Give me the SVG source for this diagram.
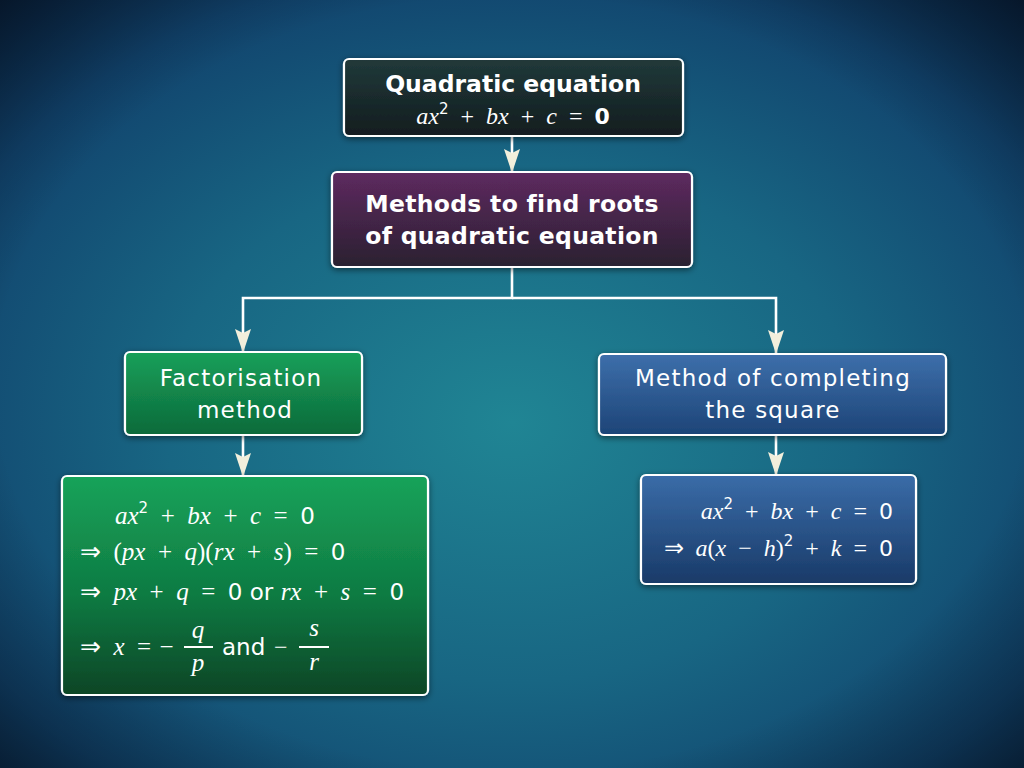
<svg xmlns="http://www.w3.org/2000/svg" width="1024" height="768" viewBox="0 0 1024 768">
<defs>
<radialGradient id="bg" cx="0.5" cy="0.55" r="0.75">
<stop offset="0" stop-color="#208594"/>
<stop offset="0.45" stop-color="#186683"/>
<stop offset="0.8" stop-color="#11436d"/>
<stop offset="1" stop-color="#0a2648"/>
</radialGradient>
<radialGradient id="vig" cx="0.5" cy="0.5" r="0.72">
<stop offset="0.7" stop-color="#000" stop-opacity="0"/>
<stop offset="1" stop-color="#000" stop-opacity="0.45"/>
</radialGradient>
<linearGradient id="gTop" x1="0" y1="0" x2="0" y2="1">
<stop offset="0" stop-color="#21393a"/>
<stop offset="1" stop-color="#121d1f"/>
</linearGradient>
<linearGradient id="gPur" x1="0" y1="0" x2="0" y2="1">
<stop offset="0" stop-color="#5e2a60"/>
<stop offset="1" stop-color="#2a2030"/>
</linearGradient>
<linearGradient id="gGreen" x1="0" y1="0" x2="0" y2="1">
<stop offset="0" stop-color="#17a05a"/>
<stop offset="1" stop-color="#0d6a3a"/>
</linearGradient>
<linearGradient id="gGreen2" x1="0" y1="0" x2="0" y2="1">
<stop offset="0" stop-color="#16a35a"/>
<stop offset="0.55" stop-color="#0f7a42"/>
<stop offset="1" stop-color="#0a4526"/>
</linearGradient>
<linearGradient id="gBlue" x1="0" y1="0" x2="0" y2="1">
<stop offset="0" stop-color="#3d6fab"/>
<stop offset="1" stop-color="#1d4477"/>
</linearGradient>
<linearGradient id="gBlue2" x1="0" y1="0" x2="0" y2="1">
<stop offset="0" stop-color="#3a6ca8"/>
<stop offset="1" stop-color="#193a68"/>
</linearGradient>
<marker id="ah" markerUnits="userSpaceOnUse" markerWidth="24" markerHeight="16" refX="23" refY="8" viewBox="0 0 24 16" orient="auto">
<path d="M0,0 L24,8 L0,16 L4,8 Z" fill="#f2efdc"/>
</marker>
<filter id="sh" x="-10%" y="-10%" width="120%" height="130%">
<feDropShadow dx="0" dy="2" stdDeviation="3" flood-color="#000" flood-opacity="0.5"/>
</filter>
</defs>
<style>
.box{stroke:#ffffff;stroke-width:2.2;filter:url(#sh)}
.t{font-family:"DejaVu Sans","Liberation Sans",sans-serif;fill:#ffffff;text-anchor:middle}
.b{font-weight:bold}
.n{font-size:23px;letter-spacing:1.2px}
.m{font-family:"Liberation Serif",serif;fill:#ffffff}
.i{font-style:italic}
.s{font-family:"DejaVu Sans","Liberation Sans",sans-serif}
.c{stroke:#ffffff;stroke-width:2.6;fill:none}
</style>
<rect width="1024" height="768" fill="url(#bg)"/>
<rect width="1024" height="768" fill="url(#vig)"/>

<g id="connectors">
<line class="c" x1="512" y1="136" x2="512" y2="172" marker-end="url(#ah)"/>
<polyline class="c" points="512,267 512,298 243,298 243,352" marker-end="url(#ah)"/>
<polyline class="c" points="512,298 776,298 776,353" marker-end="url(#ah)"/>
<line class="c" x1="243" y1="435" x2="243" y2="476" marker-end="url(#ah)"/>
<line class="c" x1="776" y1="435" x2="776" y2="475" marker-end="url(#ah)"/>
</g>

<g id="node-quadratic">
<rect class="box" x="344" y="59" width="339" height="77" rx="5" fill="url(#gTop)"/>
<text class="t b" x="513" y="92" font-size="23.5">Quadratic equation</text>
<text class="m" x="513" y="124" font-size="24" text-anchor="middle"><tspan class="i">ax</tspan><tspan class="s" font-size="15" dy="-10">2</tspan><tspan dy="10">&#8194;+&#8194;</tspan><tspan class="i">bx</tspan>&#8194;+&#8194;<tspan class="i">c</tspan>&#8194;=&#8194;<tspan class="s b" font-size="22">0</tspan></text>
</g>

<g id="node-methods">
<rect class="box" x="332" y="172" width="360" height="95" rx="5" fill="url(#gPur)"/>
<text class="t b" x="512" y="212" font-size="23.5" letter-spacing="0.3">Methods to find roots</text>
<text class="t b" x="512" y="244" font-size="23.5" letter-spacing="0.3">of quadratic equation</text>
</g>

<g id="node-factorisation">
<rect class="box" x="125" y="352" width="237" height="83" rx="5" fill="url(#gGreen)"/>
<text class="t n" x="241" y="386">Factorisation</text>
<text class="t n" x="245" y="418">method</text>
</g>

<g id="node-completing">
<rect class="box" x="599" y="354" width="347" height="81" rx="5" fill="url(#gBlue)"/>
<text class="t n" x="773" y="386">Method of completing</text>
<text class="t n" x="773" y="418">the square</text>
</g>

<g id="node-factor-steps">
<rect class="box" x="62" y="476" width="366" height="219" rx="5" fill="url(#gGreen2)"/>
<text class="m" x="115" y="524" font-size="25"><tspan class="i">ax</tspan><tspan class="s" font-size="15" dy="-11">2</tspan><tspan dy="11">&#8194;+&#8194;</tspan><tspan class="i">bx</tspan>&#8194;+&#8194;<tspan class="i">c</tspan>&#8194;=&#8194;<tspan class="s" font-size="23">0</tspan></text>
<text class="m" x="80" y="560" font-size="25">⇒&#8194;(<tspan class="i">px</tspan>&#8194;+&#8194;<tspan class="i">q</tspan>)(<tspan class="i">rx</tspan>&#8194;+&#8194;<tspan class="i">s</tspan>)&#8194;=&#8194;<tspan class="s" font-size="23">0</tspan></text>
<text class="m" x="80" y="600" font-size="25">⇒&#8194;<tspan class="i">px</tspan>&#8194;+&#8194;<tspan class="i">q</tspan>&#8194;=&#8194;<tspan class="s" font-size="23">0 or </tspan><tspan class="i">rx</tspan>&#8194;+&#8194;<tspan class="i">s</tspan>&#8194;=&#8194;<tspan class="s" font-size="23">0</tspan></text>
<text class="m" x="80" y="655" font-size="25">⇒&#8194;<tspan class="i">x</tspan>&#8194;=&#8196;−</text>
<text class="m i" x="198" y="638" font-size="25" text-anchor="middle">q</text>
<line x1="184" y1="647" x2="213" y2="647" stroke="#ffffff" stroke-width="2"/>
<text class="m i" x="198" y="671" font-size="25" text-anchor="middle">p</text>
<text class="s" x="222" y="655" font-size="23" fill="#ffffff">and</text>
<text class="m" x="274" y="655" font-size="24">−</text>
<text class="m i" x="314" y="636" font-size="25" text-anchor="middle">s</text>
<line x1="299" y1="647" x2="329" y2="647" stroke="#ffffff" stroke-width="2"/>
<text class="m i" x="314" y="670" font-size="25" text-anchor="middle">r</text>
</g>

<g id="node-square-steps">
<rect class="box" x="641" y="475" width="275" height="109" rx="5" fill="url(#gBlue2)"/>
<text class="m" x="893" y="519" font-size="24" text-anchor="end"><tspan class="i">ax</tspan><tspan class="s" font-size="15" dy="-10">2</tspan><tspan dy="10">&#8194;+&#8194;</tspan><tspan class="i">bx</tspan>&#8194;+&#8194;<tspan class="i">c</tspan>&#8194;=&#8194;<tspan class="s" font-size="22">0</tspan></text>
<text class="m" x="893" y="556" font-size="24" text-anchor="end">⇒&#8194;<tspan class="i">a</tspan>(<tspan class="i">x</tspan>&#8194;−&#8194;<tspan class="i">h</tspan>)<tspan class="s" font-size="15" dy="-10">2</tspan><tspan dy="10">&#8194;+&#8194;</tspan><tspan class="i">k</tspan>&#8194;=&#8194;<tspan class="s" font-size="22">0</tspan></text>
</g>
</svg>
